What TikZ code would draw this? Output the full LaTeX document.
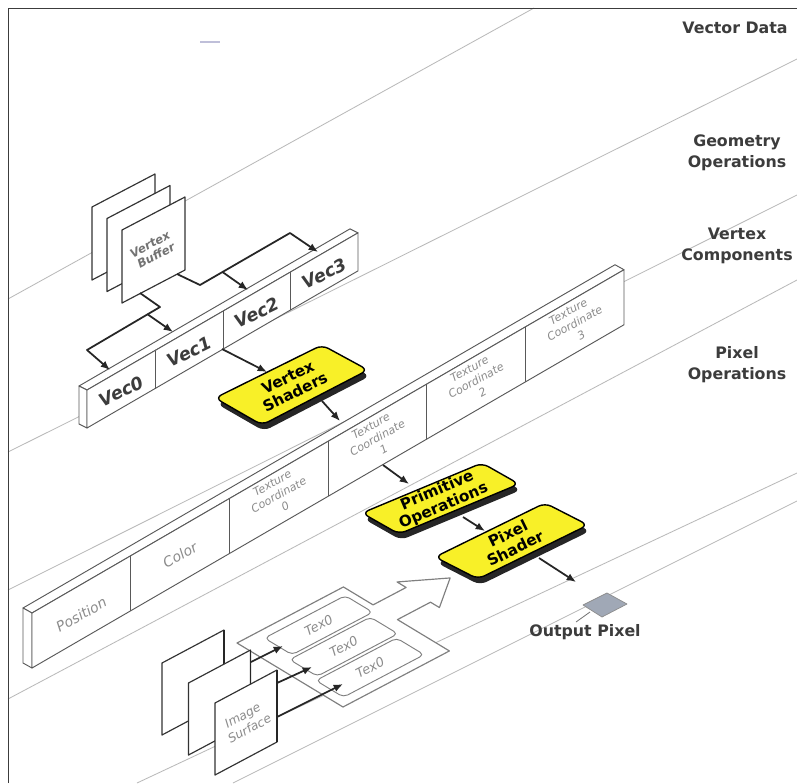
\documentclass[tikz,border=0pt]{standalone}
\usepackage{fontspec}
\setmainfont{DejaVu Sans}
\usepackage{tikz}
\usetikzlibrary{arrows.meta,calc}
\definecolor{shadeyellow}{RGB}{248,240,40}
\definecolor{inkgray}{RGB}{60,60,60}
\definecolor{rulegray}{RGB}{185,185,185}
\definecolor{pixelblue}{RGB}{160,168,182}

\begin{document}
\begin{tikzpicture}[x=0.03cm, y=-0.03cm, line join=round,
  flow/.style={line width=1.5pt, black!85, -{Latex[length=8pt,width=6.5pt]}},
  wire/.style={line width=1.5pt, black!85},
  wmline/.style={rulegray, line width=0.7pt},
  sheet/.style={draw=black!80, line width=1pt, fill=white},
  barline/.style={draw=black!65, line width=0.8pt, fill=white},
  shaderbox/.style={draw=black, line width=1.2pt, fill=shadeyellow, rounded corners=6pt},
  shadertext/.style={font=\bfseries\fontsize{13}{14}\selectfont, align=center, inner sep=0pt},
  veclabel/.style={font=\bfseries\itshape\fontsize{15}{16}\selectfont, text=inkgray, rotate=26},
  cellfaint/.style={font=\itshape\fontsize{9.5}{11.5}\selectfont, text=black!45, align=center, rotate=29, inner sep=1pt},
  hollow/.style={draw=black!50, line width=1pt, fill=white},
  texbox/.style={draw=black!50, line width=0.8pt, fill=white, rounded corners=4pt},
  textex/.style={font=\itshape\fontsize{11}{12}\selectfont, text=black!45, rotate=28, inner sep=1pt},
  layer/.style={font=\bfseries\fontsize{13.5}{18}\selectfont, text=inkgray, align=center}]
\useasboundingbox (0,0) rectangle (797,783);
\fill[white] (0,0) rectangle (797,783);

% faint rules between the stages
\draw[wmline] (8,299) -- (534,8);
\draw[wmline] (8,452) -- (797,59);
\draw[wmline] (8,590) -- (797,195);
\draw[wmline] (8,699) -- (797,280);
\draw[wmline] (137,783) -- (797,473);
\draw[wmline] (233,783) -- (797,501);

% frame
\draw[inkgray, line width=0.8pt] (8,783) -- (8,8) -- (797,8);
\draw[blue!25!gray!40, line width=1.2pt] (200,42) -- (220,42);

% vertex buffer
\foreach \k in {0,1,2}
  \draw[sheet] ({92+15*\k},{207+11.5*\k}) -- ++(63,-33) -- ++(0,73) -- ++(-63,33) -- cycle;
\node[font=\bfseries\itshape\fontsize{10}{11}\selectfont, text=black!55, align=center, rotate=28] (vbuf) at (153,250) {Vertex\\Buffer};

% vector bar
\begin{scope}[shift={(87,428)}, x={(0.03cm,0.0174cm)}, y={(0cm,-0.03cm)}, z={(-0.24cm,0.12cm)}]
  \draw[barline] (0,-38,0) -- (271,-38,0) -- (271,-38,1) -- (0,-38,1) -- cycle;
  \draw[barline] (0,0,0) -- (0,-38,0) -- (0,-38,1) -- (0,0,1) -- cycle;
  \draw[barline] (0,0,0) -- (271,0,0) -- (271,-38,0) -- (0,-38,0) -- cycle;
  \foreach \a in {68,136,203}
    \draw[black!65, line width=0.8pt] (\a,0,0) -- (\a,-38,0);
  \foreach \a/\n in {34/0,102/1,169.5/2,237/3}
    \node[veclabel] (vec\n) at (\a,-17,0) {Vec\n};
\end{scope}

% buffer to vectors
\coordinate (vb-r) at (177,274);
\coordinate (vb-l) at (140,293);
\coordinate (bend-a) at (200,285);
\coordinate (bend-b) at (290,233);
\coordinate (bend-c) at (160,307);
\coordinate (bend-d) at (87,350);
\coordinate (vec0-in) at (110,370);
\coordinate (vec1-in) at (173,332);
\coordinate (vec2-in) at (248,290);
\coordinate (vec3-in) at (318,252);
\draw[flow] (vb-r) -- (bend-a) -- (bend-b) -- (vec3-in);
\draw[flow] ($(bend-a)!0.25!(bend-b)$) -- (vec2-in);
\draw[flow] (vb-l) -- (bend-c) -- (bend-d) -- (vec0-in);
\draw[flow] ($(bend-c)!0.17!(bend-d)$) -- (vec1-in);

% vertex components bar
\begin{scope}[shift={(32,668)}, x={(0.03cm,0.0174cm)}, y={(0cm,-0.03cm)}, z={(-0.27cm,0.15cm)}]
  \draw[barline] (0,-55,0) -- (592,-55,0) -- (592,-55,1) -- (0,-55,1) -- cycle;
  \draw[barline] (0,0,0) -- (0,-55,0) -- (0,-55,1) -- (0,0,1) -- cycle;
  \draw[barline] (0,0,0) -- (592,0,0) -- (592,-55,0) -- (0,-55,0) -- cycle;
  \foreach \a in {98.67,197.33,296,394.67,493.33}
    \draw[black!65, line width=0.8pt] (\a,0,0) -- (\a,-55,0);
  \node[cellfaint, font=\itshape\fontsize{12}{13}\selectfont] (tcpos) at (49.3,-25,0) {Position};
  \node[cellfaint, font=\itshape\fontsize{12}{13}\selectfont] (tccol) at (148,-27.5,0) {Color};
  \foreach \a/\n in {246.7/0,345.3/1,444/2,542.7/3}
    \node[cellfaint] (tc\n) at (\a,-30,0) {Texture\\Coordinate\\\n};
\end{scope}

% shader boxes
\fill[black!85, rounded corners=6pt, shift={(2,6)}] (215,398) -- (322,345) -- (368,370) -- (262,425) -- cycle;
\draw[shaderbox] (215,398) -- (322,345) -- (368,370) -- (262,425) -- cycle;
\node[shadertext, rotate=26] (vshader) at (291.5,384.5) {Vertex\\Shaders};

\fill[black!85, rounded corners=6pt, shift={(2,6)}] (362,513) -- (482,463) -- (519,484) -- (399,534) -- cycle;
\draw[shaderbox] (362,513) -- (482,463) -- (519,484) -- (399,534) -- cycle;
\node[shadertext, rotate=23] (primops) at (440.5,498.5) {Primitive\\Operations};

\fill[black!85, rounded corners=6pt, shift={(2,6)}] (435,557) -- (545,503) -- (588,525) -- (478,579) -- cycle;
\draw[shaderbox] (435,557) -- (545,503) -- (588,525) -- (478,579) -- cycle;
\node[shadertext, rotate=26] (pixshader) at (511.5,541) {Pixel\\Shader};

% pipeline arrows
\coordinate (vec1-out) at (222,349);
\coordinate (vs-in) at (267,372);
\coordinate (vs-out) at (322,401);
\coordinate (tc-in) at (340,421);
\coordinate (tc1-out) at (383,465);
\coordinate (prim-in) at (409,484);
\coordinate (prim-out) at (463,517);
\coordinate (pix-in) at (485,531);
\coordinate (pix-out) at (539,558);
\coordinate (pix-dest) at (576,582);
\draw[flow] (vec1-out) -- (vs-in);
\draw[flow] (vs-out) -- (tc-in);
\draw[flow] (tc1-out) -- (prim-in);
\draw[flow] (prim-out) -- (pix-in);
\draw[flow] (pix-out) -- (pix-dest);

% texture fetch on the ground plane
\begin{scope}[shift={(237,643)}, x={(0.0336cm,0.0177cm)}, y={(0.0318cm,-0.0192cm)}]
  \draw[hollow] (0,0) -- (95,0) -- (95,28) -- (124.5,28) -- (124.5,19.4) -- (153,39.4)
    -- (124.5,59.4) -- (124.5,51) -- (95,51) -- (95,100) -- (0,100) -- cycle;
  \foreach \s/\t [count=\i] in {53/21,48/50,44/79} {
    \draw[texbox] (\s-36,\t-13) -- (\s+36,\t-13) -- (\s+36,\t+13) -- (\s-36,\t+13) -- cycle;
    \node[textex] (tex\i) at (\s,\t) {Tex0};
  }
\end{scope}

% image surface
\foreach \k in {0,1,2} {
  \draw[sheet] ({162+26.5*\k},{663+20*\k}) -- ++(62,-33) -- ++(0,72) -- ++(-62,33) -- cycle;
  \draw[wire] ({224+26.5*\k},{630+20*\k}) -- ++(0,72);
}
\node[font=\itshape\fontsize{10.5}{12.5}\selectfont, text=black!45, align=center, rotate=28, inner sep=1pt] (imgsurf) at (246,722) {Image\\Surface};
\coordinate (img-a) at (251,662);
\coordinate (img-b) at (277,683);
\coordinate (img-c) at (277,717);
\coordinate (tex1-in) at (283,646);
\coordinate (tex2-in) at (312,667);
\coordinate (tex3-in) at (343,684);
\draw[flow] (img-a) -- (tex1-in);
\draw[flow] (img-b) -- (tex2-in);
\draw[flow] (img-c) -- (tex3-in);

% output pixel
\filldraw[fill=pixelblue, draw=black!45, line width=0.6pt] (583,605) -- (607,593) -- (627,604) -- (602,617) -- cycle;
\node[layer] (outlabel) at (585,632) {Output Pixel};
\coordinate (lead-a) at (576,622);
\coordinate (lead-b) at (590,612);
\draw[black!55, line width=0.7pt] (lead-a) -- (lead-b);

% stage names
\node[layer] (vecdata) at (735,28) {Vector Data};
\node[layer] (geomops) at (737,153) {Geometry\\Operations};
\node[layer] (vertcomp) at (737,246) {Vertex\\Components};
\node[layer] (pixops) at (737,365) {Pixel\\Operations};
\end{tikzpicture}
\end{document}
